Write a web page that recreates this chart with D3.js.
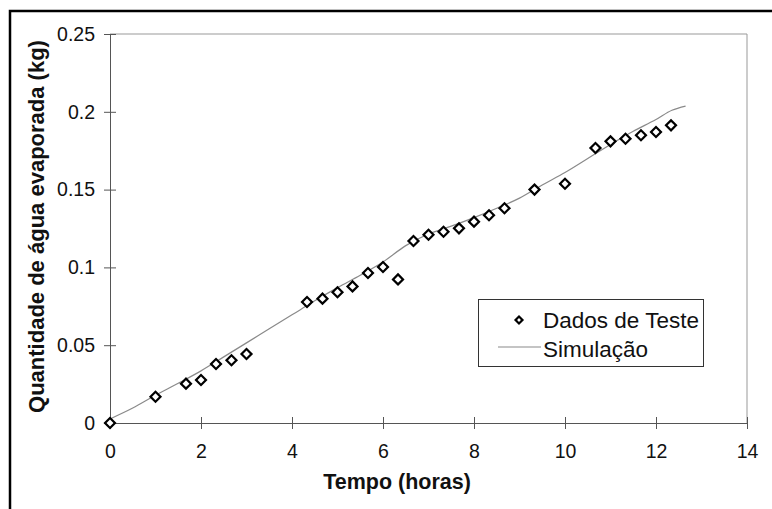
<!DOCTYPE html>
<html>
<head>
<meta charset="utf-8">
<script src="https://cdn.jsdelivr.net/npm/d3@7"></script>
<style>
  html, body { margin: 0; padding: 0; background: #fff; }
  svg { display: block; }
  text { font-family: "Liberation Sans", Arial, sans-serif; fill: #111; }
</style>
</head>
<body>
<svg id="chart" width="772" height="509"></svg>
<script>
// ---- data ----
const testX = [0, 1, 1.67, 2, 2.33, 2.67, 3, 4.33, 4.67, 5, 5.33, 5.67, 6, 6.33, 6.67, 7, 7.33, 7.67, 8, 8.33, 8.67, 9.33, 10, 10.67, 11, 11.33, 11.67, 12, 12.33];
const testY = [0, 0.0169, 0.0253, 0.0276, 0.0379, 0.0403, 0.0443, 0.0778, 0.0799, 0.084, 0.0878, 0.0964, 0.1003, 0.0923, 0.117, 0.121, 0.1229, 0.1251, 0.1294, 0.1335, 0.138, 0.150, 0.1538, 0.1767, 0.181, 0.1827, 0.1849, 0.187, 0.1913];
const simX = [0, 0.5, 1, 1.5, 2, 2.5, 3, 3.5, 4, 4.5, 5, 5.5, 6, 6.5, 7, 7.5, 8, 8.5, 9, 9.5, 10, 10.5, 11, 11.5, 12, 12.35, 12.65];
const simY = [0.0026, 0.0096, 0.0178, 0.0255, 0.0335, 0.0425, 0.0515, 0.0605, 0.0695, 0.0785, 0.087, 0.095, 0.1035, 0.114, 0.1215, 0.1265, 0.132, 0.138, 0.1445, 0.153, 0.161, 0.170, 0.179, 0.1875, 0.195, 0.201, 0.2037];
const xTicks = [0, 2, 4, 6, 8, 10, 12, 14];
const yTicks = [0, 0.05, 0.1, 0.15, 0.2, 0.25];
const yTickLabels = ["0", "0.05", "0.1", "0.15", "0.2", "0.25"];
const xTitle = "Tempo (horas)";
const yTitle = "Quantidade de água evaporada (kg)";
const legendLabels = ["Dados de Teste", "Simulação"];

// ---- layout ----
const svg = d3.select("#chart");
const L = 110, R = 747, T = 34, B = 423;
const x = d3.scaleLinear().domain([0, 14]).range([L, R]);
const y = d3.scaleLinear().domain([0, 0.25]).range([B, T]);

svg.append("rect").attr("width", 772).attr("height", 509).attr("fill", "#fff");
// outer frame (cropped at right/bottom)
svg.append("rect").attr("x", 10).attr("y", 11).attr("width", 900).attr("height", 700)
  .attr("fill", "none").attr("stroke", "#000").attr("stroke-width", 2.5);

// plot frame top/right
svg.append("path").attr("d", `M${L},${T}H${R}V${B}`).attr("fill", "none")
  .attr("stroke", "#999").attr("stroke-width", 1);

// axes
const gx = svg.append("g").attr("transform", `translate(0,${B})`)
  .call(d3.axisBottom(x).tickValues(xTicks).tickFormat(d => String(d)).tickSizeOuter(0).tickSize(6).tickPadding(15));
gx.selectAll(".tick line").attr("y1", -6).attr("y2", 6);
const gy = svg.append("g").attr("transform", `translate(${L},0)`)
  .call(d3.axisLeft(y).tickValues(yTicks).tickFormat((d, i) => yTickLabels[i]).tickSizeOuter(0).tickSize(6).tickPadding(9));
gy.selectAll(".tick line").attr("x1", 6);
[gx, gy].forEach(g => {
  g.select(".domain").attr("stroke", "#555");
  g.selectAll(".tick line").attr("stroke", "#555");
  g.selectAll(".tick text").attr("font-size", 19.5).attr("fill", "#111")
    .attr("font-family", "Liberation Sans, Arial, sans-serif");
});

// simulation line
const simData = simX.map((v, i) => [v, simY[i]]);
svg.append("path").datum(simData)
  .attr("d", d3.line().x(d => x(d[0])).y(d => y(d[1])).curve(d3.curveMonotoneX))
  .attr("fill", "none").attr("stroke", "#8a8a8a").attr("stroke-width", 1.2);

// test points
const sym = d3.symbol().type(d3.symbolSquare).size(50);
svg.append("g").selectAll("path").data(testX.map((v, i) => [v, testY[i]])).join("path")
  .attr("d", sym)
  .attr("transform", d => `translate(${x(d[0])},${y(d[1])}) rotate(45)`)
  .attr("fill", "#fff").attr("stroke", "#000").attr("stroke-width", 2.2);

// titles
svg.append("text").attr("x", 397).attr("y", 489).attr("text-anchor", "middle")
  .attr("font-size", 21.5).attr("font-weight", "bold").text(xTitle);
svg.append("text").attr("transform", "translate(44,226.5) rotate(-90)").attr("text-anchor", "middle")
  .attr("font-size", 22).attr("font-weight", "bold").text(yTitle);

// legend
const lg = svg.append("g");
lg.append("rect").attr("x", 478.5).attr("y", 299.5).attr("width", 225).attr("height", 67)
  .attr("fill", "#fff").attr("stroke", "#333").attr("stroke-width", 1);
lg.append("path").attr("d", d3.symbol().type(d3.symbolSquare).size(24)())
  .attr("transform", "translate(519,320) rotate(45)")
  .attr("fill", "#fff").attr("stroke", "#000").attr("stroke-width", 2.2);
lg.append("line").attr("x1", 498).attr("x2", 541).attr("y1", 347).attr("y2", 347)
  .attr("stroke", "#8a8a8a").attr("stroke-width", 1.2);
lg.append("text").attr("x", 543).attr("y", 328).attr("font-size", 22.5).text(legendLabels[0]);
lg.append("text").attr("x", 543).attr("y", 357).attr("font-size", 22.5).text(legendLabels[1]);
</script>
</body>
</html>
